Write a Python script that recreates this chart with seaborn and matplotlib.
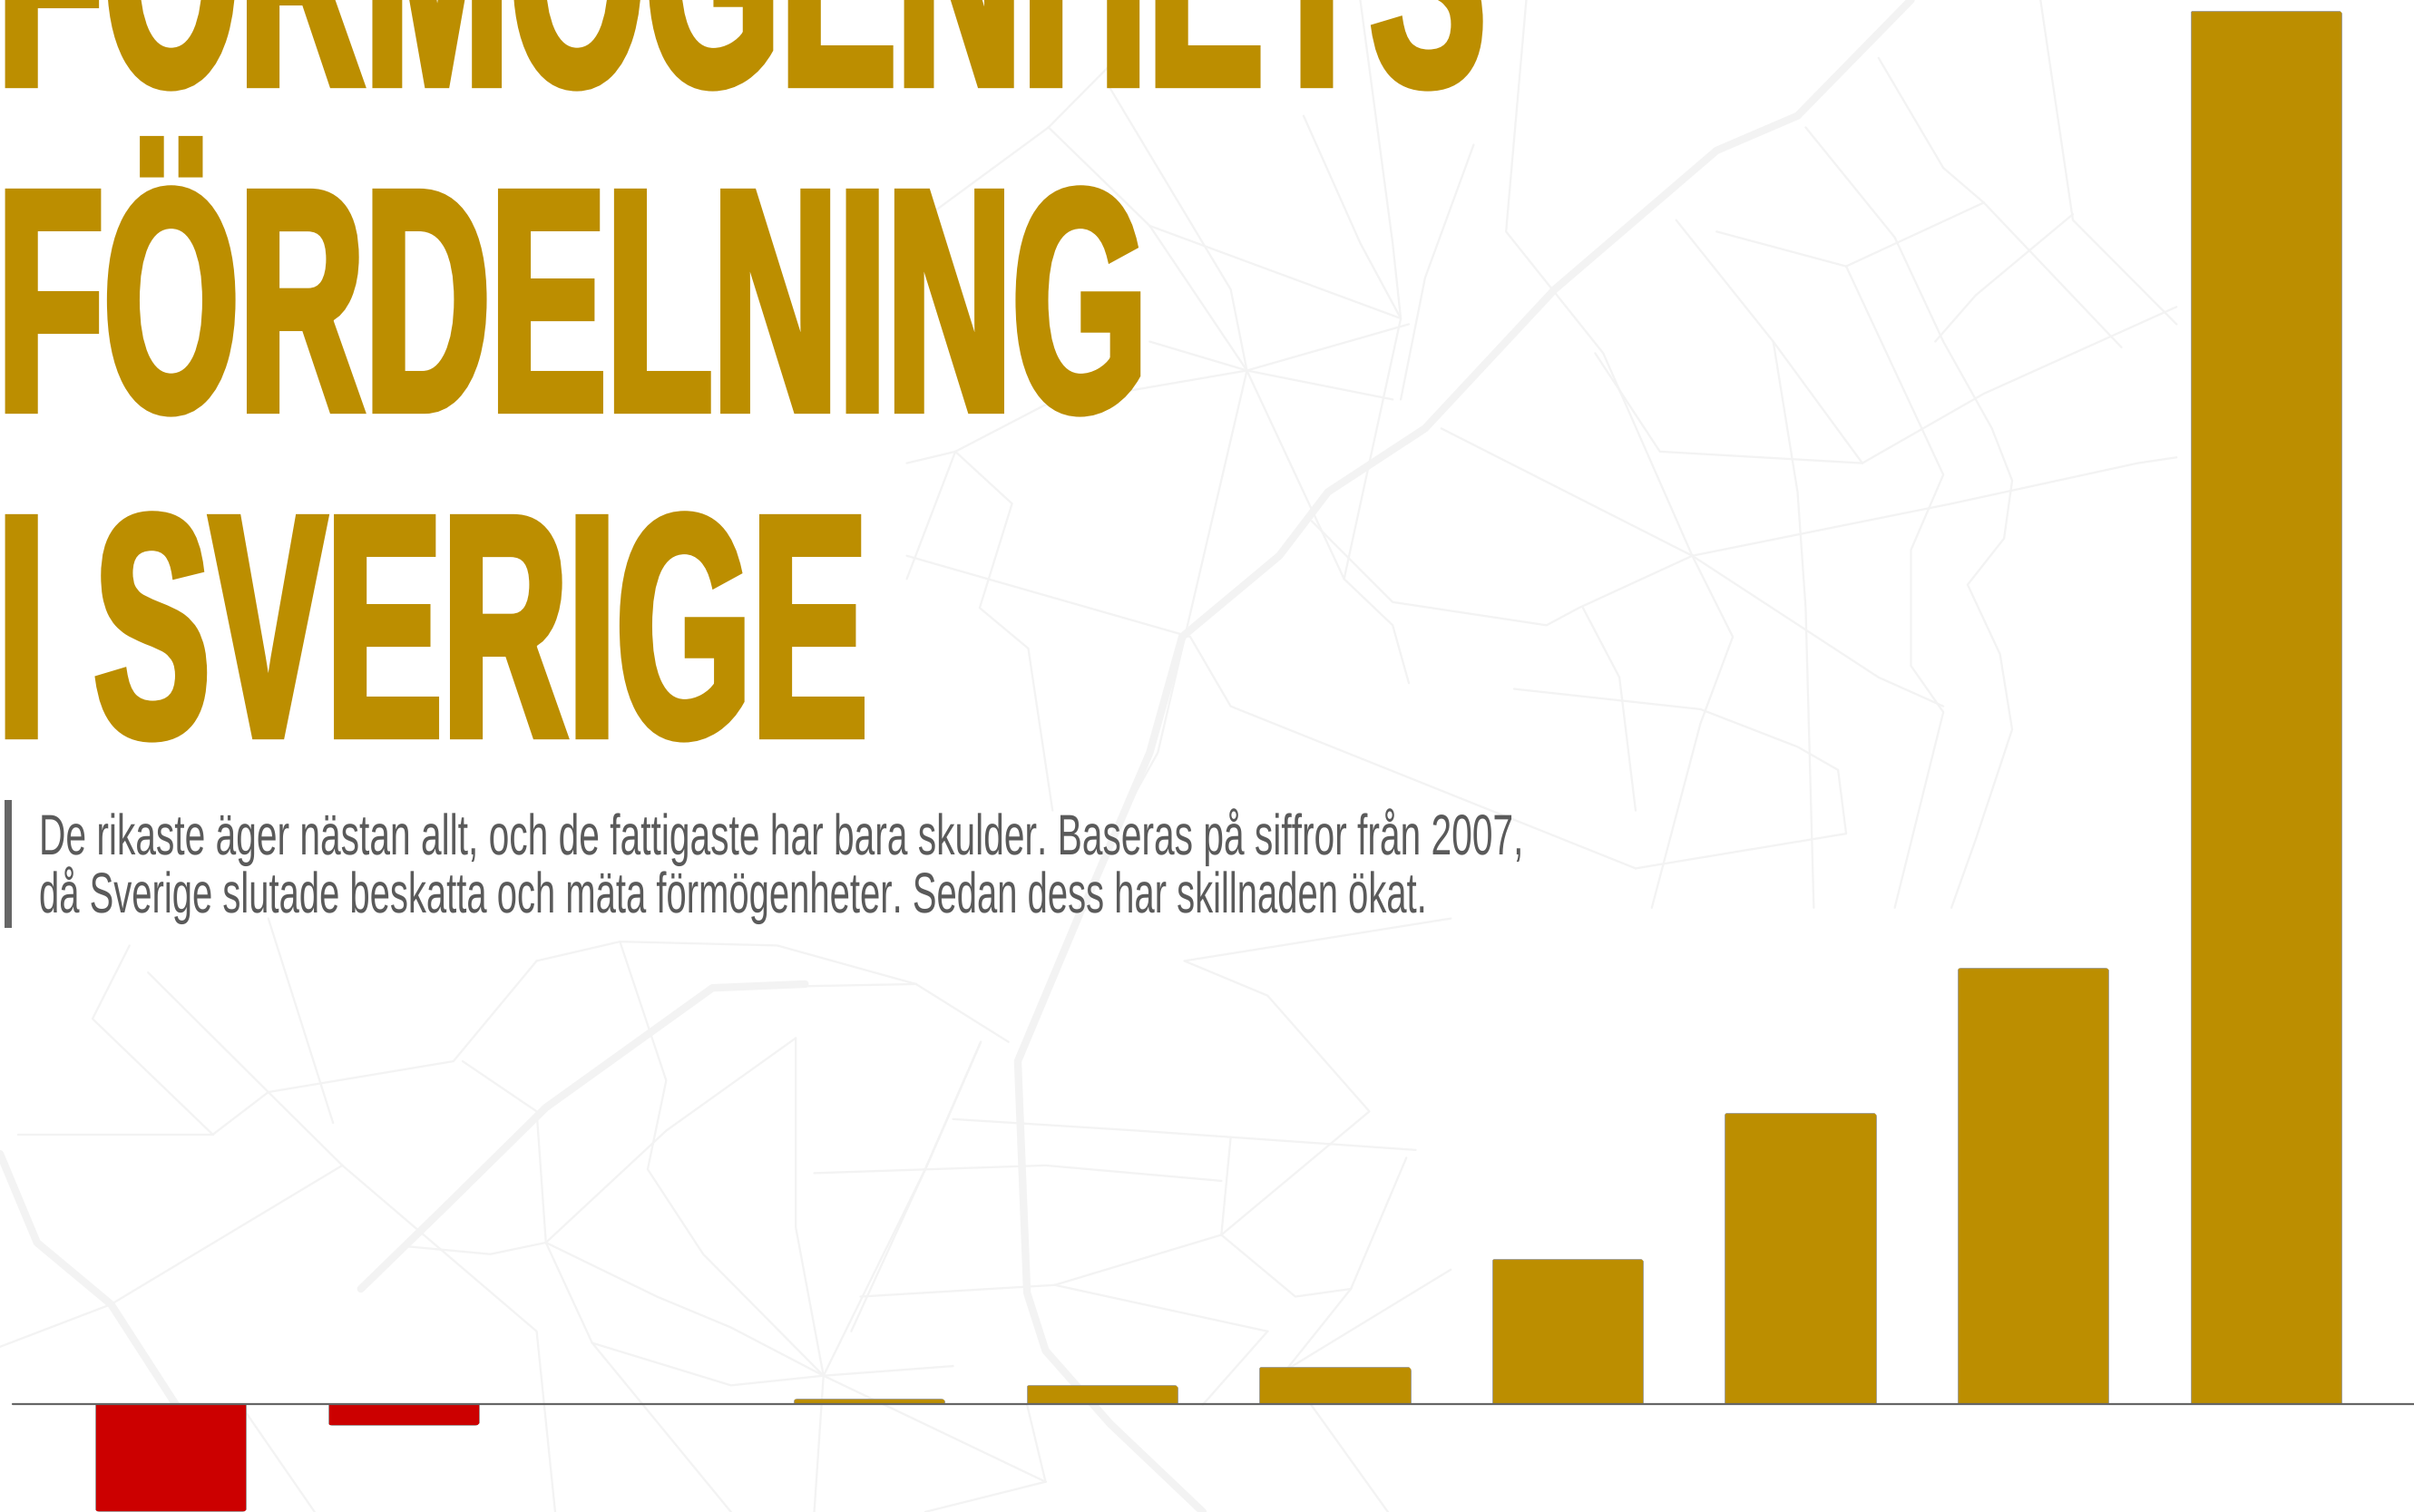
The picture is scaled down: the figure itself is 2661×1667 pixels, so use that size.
import matplotlib
matplotlib.use("Agg")
import matplotlib.pyplot as plt
import matplotlib.patheffects as pe
from matplotlib import font_manager as fm
from matplotlib.patches import FancyBboxPatch
from matplotlib.transforms import IdentityTransform
from fontTools.ttLib import TTFont
from fontTools.ttLib.tables import ttProgram
import pandas as pd
import seaborn as sns

# ---------- data ----------
deciles = ["1", "2", "3", "4", "5", "6", "7", "8", "9", "10"]
wealth = [-70, -14, 0, 3, 12, 24, 94, 189, 283, 905]
title_lines = ["FÖRMÖGENHETS", "FÖRDELNING", "I SVERIGE"]
subtitle_lines = [
    "De rikaste äger nästan allt, och de fattigaste har bara skulder. Baseras på siffror från 2007,",
    "då Sverige slutade beskatta och mäta förmögenheter. Sedan dess har skillnaden ökat.",
]
GOLD, RED, GREY, TEXT, ROAD = "#BC8E00", "#CC0000", "#666666", "#5A5A5A", "#F3F3F3"

# Background street map, traced by eye: upper part of the picture
upper_thick = [
    [(1240, 0), (1100, 200), (1000, 260), (800, 500), (640, 740), (520, 850), (460, 960), (400, 1030),
     (340, 1100), (300, 1300), (218, 1568)],
]
upper_thin = [
    [(1110, 220), (1220, 410), (1280, 590), (1340, 740), (1365, 830), (1355, 930), (1310, 1010), (1350, 1130),
     (1365, 1260), (1320, 1450), (1290, 1568)],
    [(1200, 100), (1280, 290), (1330, 350), (1500, 600)], [(765, 0), (740, 400), (860, 610), (970, 960)],
    [(970, 960), (1290, 870), (1520, 800), (1568, 790)], [(970, 960), (1020, 1100), (980, 1250), (920, 1568)],
    [(970, 960), (660, 740)], [(970, 960), (830, 1050), (790, 1080), (600, 1040), (500, 900)],
    [(970, 960), (1200, 1170), (1280, 1220)], [(1070, 590), (1100, 850), (1110, 1050), (1120, 1568)],
    [(420, 640), (300, 590)], [(420, 640), (600, 690)], [(420, 640), (540, 1000), (600, 1080), (620, 1180)],
    [(420, 640), (310, 1300), (270, 1400)], [(420, 640), (620, 560)], [(420, 640), (300, 390), (175, 220), (260, 100)],
    [(300, 390), (610, 550), (560, 420), (490, 200)], [(175, 220), (0, 400)], [(60, 780), (0, 1000)],
    [(60, 780), (130, 870), (90, 1050), (150, 1120), (180, 1400)], [(0, 960), (350, 1100), (400, 1220), (900, 1500)],
    [(835, 1050), (880, 1170), (900, 1400)], [(750, 1190), (980, 1225), (1100, 1290), (1150, 1330), (1160, 1440), (900, 1500)],
    [(1568, 530), (1330, 680), (1180, 800), (930, 780), (850, 610)], [(1000, 400), (1160, 460), (1330, 350)],
    [(950, 380), (1070, 590), (1180, 800)], [(1160, 460), (1220, 640), (1280, 820), (1240, 950), (1240, 1150),
                                             (1280, 1230), (1220, 1568)],
    [(0, 800), (60, 780), (170, 700), (420, 640)], [(1400, 0), (1440, 380), (1568, 560)],
    [(1440, 370), (1320, 510), (1270, 590)], [(560, 0), (600, 420), (610, 550), (540, 1000)],
    [(250, 150), (400, 500), (420, 640)], [(700, 250), (640, 480), (610, 690)],
]
# lower part of the picture
lower_thick = [
    [(0, 640), (40, 870), (120, 1030), (190, 1290), (250, 1568)], [(390, 990), (480, 780), (590, 520), (770, 210), (870, 200)],
    [(1170, 0), (1100, 400), (1110, 1000), (1130, 1150), (1200, 1340), (1300, 1568)],
]
lower_thin = [
    [(590, 870), (640, 1130), (790, 1568)], [(890, 1215), (790, 1240), (640, 1130)], [(890, 1215), (790, 1090), (710, 1010), (590, 870)],
    [(890, 1215), (1000, 680), (1060, 350)], [(890, 1215), (880, 1568)], [(890, 1215), (1130, 1490)],
    [(890, 1215), (760, 900), (700, 680), (720, 450), (670, 90)], [(890, 1215), (860, 830), (860, 340)], [(890, 1215), (1030, 1190)],
    [(20, 590), (230, 590)], [(230, 590), (290, 480), (490, 400), (580, 140)], [(230, 590), (100, 290), (140, 100)],
    [(160, 170), (290, 480), (370, 670), (580, 1100), (600, 1568)], [(370, 670), (120, 1030), (0, 1140)],
    [(590, 870), (530, 900), (440, 880)], [(880, 690), (1130, 670), (1320, 710)], [(1030, 550), (1230, 580), (1530, 630)],
    [(1330, 600), (1320, 850), (1140, 980), (930, 1010)], [(1320, 850), (1480, 530), (1370, 230), (1280, 140), (1568, 30)],
    [(1140, 980), (1370, 1100)], [(670, 90), (840, 100), (990, 200), (1090, 350)], [(1060, 350), (1000, 680), (920, 1100)],
    [(580, 140), (670, 90)], [(770, 210), (990, 200)], [(1320, 850), (1400, 1010), (1460, 990), (1520, 650)],
    [(1460, 990), (1390, 1200), (1568, 940)], [(290, 30), (360, 560)], [(590, 870), (580, 530), (500, 400)],
    [(860, 340), (720, 580), (590, 870)], [(1130, 1490), (1000, 1568)], [(1130, 1490), (1110, 1290)],
    [(260, 1290), (340, 1568)], [(1370, 1100), (1300, 1290)], [(1390, 1200), (1500, 1568)],
]


def upper(road):
    return [(589 + x * 0.526, y * 0.376) for x, y in road]


def lower(road):
    return [(x * 0.601, 589 + y * 0.2506) for x, y in road]


def condensed(cap_px, target_px, sample, path, weight):
    """Write a horizontally squeezed copy of an installed font; return it as FontProperties."""
    try:
        src = fm.findfont(fm.FontProperties(family="Liberation Sans Narrow", weight=weight), fallback_to_default=False)
    except ValueError:
        src = fm.findfont(fm.FontProperties(family="Liberation Sans", weight=weight))
    f = TTFont(src)
    upem = f["head"].unitsPerEm
    size_px = cap_px / (f["OS/2"].sCapHeight / upem)
    cmap = f.getBestCmap()
    width = sum(f["hmtx"][cmap[ord(c)]][0] for c in sample) / upem * size_px
    s = target_px / width
    glyf = f["glyf"]
    for name in glyf.keys():
        g = glyf[name]
        if g.isComposite():
            for c in g.components:
                c.x = round(c.x * s)
        elif g.numberOfContours > 0:
            g.coordinates.scale((s, 1))
            g.coordinates.toInt()
        if hasattr(g, "program"):
            g.program = ttProgram.Program()
            g.program.fromBytecode(b"")
        adv, lsb = f["hmtx"][name]
        f["hmtx"][name] = (round(adv * s), round(lsb * s))
    for t in ("fpgm", "prep", "cvt ", "hdmx", "VDMX", "LTSH", "kern", "GPOS", "GSUB", "GDEF"):
        if t in f:
            del f[t]
    f.save(path)
    return fm.FontProperties(fname=path, size=size_px * 72 / DPI)


DPI = 100
W, H = 2661, 1667
sns.set_theme(style="white")
plt.rcParams["text.hinting"] = "none"
fig = plt.figure(figsize=(W / DPI, H / DPI), dpi=DPI, facecolor="white")

# background map
bg = fig.add_axes([0, 0, 1, 1], zorder=0)
bg.set_xlim(0, 1568)
bg.set_ylim(982, 0)
bg.set_axis_off()
for road in [upper(r) for r in upper_thick] + [lower(r) for r in lower_thick]:
    bg.plot(*zip(*road), color=ROAD, lw=6, solid_capstyle="round", solid_joinstyle="round")
for road in [upper(r) for r in upper_thin] + [lower(r) for r in lower_thin]:
    bg.plot(*zip(*road), color=ROAD, lw=1.6, solid_capstyle="round", solid_joinstyle="round")

# bars
ax = fig.add_axes([0, 0, 1, 1], zorder=1)
ax.patch.set_alpha(0)
df = pd.DataFrame({"decil": deciles, "formogen": wealth})
df["tecken"] = ["neg" if v < 0 else "pos" for v in wealth]
sns.barplot(data=df, x="decil", y="formogen", hue="tecken", palette={"neg": RED, "pos": GOLD}, saturation=1,
            dodge=False, width=0.648, legend=False, ax=ax, edgecolor="#9a9a9a", linewidth=0.6, zorder=2)
ax.set_xlim(-0.734, 9.636)
ax.set_ylim(-70.4, 912)
ax.set_axis_off()
ax.axhline(0, xmin=14 / W, xmax=1, color=GREY, lw=1.6, zorder=3)

# rounded outer corners, keeping the bars square on the baseline
R, EXT = 9, 30
for bar in ax.patches:
    if bar.get_height() == 0:
        continue
    bb = bar.get_window_extent()
    x0, x1, y0, y1 = bb.x0 - 2, bb.x1 + 2, bb.y0, bb.y1
    if bar.get_height() > 0 and bar.get_y() >= 0:
        y0 -= EXT
        y1 += 1
    else:
        y1 += EXT
        y0 -= 1
    clip = FancyBboxPatch((x0 + R, y0 + R), x1 - x0 - 2 * R, y1 - y0 - 2 * R,
                          boxstyle=f"round,pad={R},rounding_size={R}", transform=IdentityTransform())
    bar.set_clip_path(clip)

# text
title_fp = condensed(240, 1268, "FÖRDELNING", "title_cond.ttf", "bold")
for line, base in zip(title_lines, [93, 452, 811]):
    fig.text(-3 / W, 1 - base / H, line, fontproperties=title_fp, color=GOLD, va="baseline", ha="left", zorder=4,
             path_effects=[pe.withStroke(linewidth=6, foreground=GOLD, joinstyle="miter", capstyle="butt")])
sub_widths = [1636, 1530]
for i, (line, base, width) in enumerate(zip(subtitle_lines, [942, 1006], sub_widths)):
    sub_fp = condensed(43, width, line, f"sub_cond{i}.ttf", "normal")
    fig.text(43 / W, 1 - base / H, line, fontproperties=sub_fp, color=TEXT, va="baseline", ha="left", zorder=4)
fig.add_artist(plt.Rectangle((5 / W, 1 - 1023 / H), 8 / W, 141 / H, transform=fig.transFigure, color=GREY, lw=0))

fig.savefig("out.png", dpi=DPI)
